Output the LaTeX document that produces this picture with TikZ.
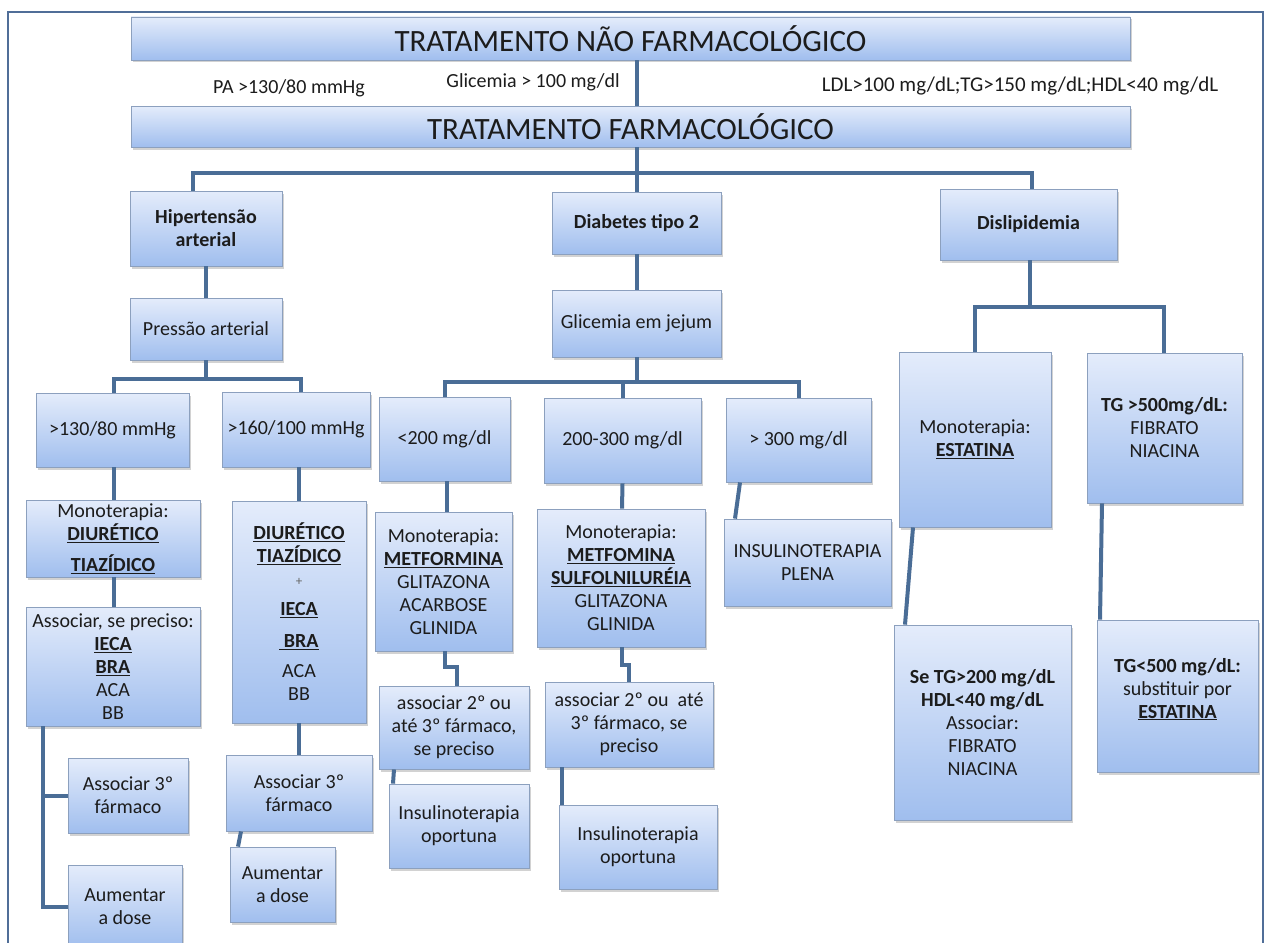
\documentclass[tikz,border=0pt]{standalone}
\usepackage{fontspec}
\setmainfont{Carlito}
\usetikzlibrary{shadows,calc}
\definecolor{boxtop}{RGB}{228,236,251}
\definecolor{boxbot}{RGB}{160,190,238}
\definecolor{boxline}{RGB}{140,160,190}
\definecolor{linkc}{RGB}{74,109,150}
\definecolor{framec}{RGB}{80,110,152}
\definecolor{txt}{RGB}{28,28,28}
\begin{document}
\begin{tikzpicture}[x=1pt,y=-1pt,
  box/.style={draw=boxline, line width=0.8pt, top color=boxtop, bottom color=boxbot,
    inner sep=2pt, align=center, text=txt, font=\fontsize{20}{23}\selectfont,
    drop shadow={shadow xshift=2pt, shadow yshift=-2.5pt, opacity=0.35}},
  big/.style={box, font=\fontsize{31}{35}\selectfont},
  link/.style={draw=linkc, line width=4pt},
  lbl/.style={text=txt, font=\fontsize{20}{24}\selectfont, inner sep=0pt}
]
\useasboundingbox (0,0) rectangle (1268,942);
\fill[white] (0,0) rectangle (1268,942);
\draw[framec, line width=2.5pt] (8,950) -- (8,12) -- (1263,12) -- (1263,950);

% top boxes
\node[big, minimum width=999pt, minimum height=43pt] (nf) at (630.5,38.5) {TRATAMENTO NÃO FARMACOLÓGICO};
\node[big, minimum width=999pt, minimum height=41pt] (f) at (630.5,126.5) {TRATAMENTO FARMACOLÓGICO};

\node[lbl] (lpa) at (289,88) {PA >130/80 mmHg};
\node[lbl] (lgl) at (533,82) {Glicemia > 100 mg/dl};
\node[lbl, font=\fontsize{21}{24}\selectfont] (lldl) at (1020,86) {LDL>100 mg/dL;TG>150 mg/dL;HDL<40 mg/dL};

% level 1
\node[box, minimum width=152pt, minimum height=75pt] (hip) at (206,228.5) {\textbf{Hipertensão}\\\textbf{arterial}};
\node[box, minimum width=169pt, minimum height=62pt] (dia) at (636.5,223) {\textbf{Diabetes tipo 2}};
\node[box, minimum width=177pt, minimum height=71pt] (dis) at (1028.5,224.5) {\textbf{Dislipidemia}};

% level 2
\node[box, minimum width=152pt, minimum height=62pt] (pres) at (206,329) {Pressão arterial};
\node[box, minimum width=169pt, minimum height=67pt] (gli) at (636.5,323.5) {Glicemia em jejum};

% level 3
\node[box, minimum width=153pt, minimum height=74pt] (p1) at (112.5,430) {>130/80 mmHg};
\node[box, minimum width=148pt, minimum height=75pt] (p2) at (296,429.5) {>160/100 mmHg};
\node[box, minimum width=131pt, minimum height=84pt] (g1) at (444.5,439) {<200 mg/dl};
\node[box, minimum width=157pt, minimum height=85pt] (g2) at (622.5,440.5) {200-300 mg/dl};
\node[box, minimum width=145pt, minimum height=84pt] (g3) at (798.5,440) {> 300 mg/dl};
\node[box, minimum width=152pt, minimum height=175pt] (est) at (975,439.5) {Monoterapia:\\\underline{\textbf{ESTATINA}}};
\node[box, minimum width=155pt, minimum height=150pt] (tga) at (1164.5,428) {\textbf{TG >500mg/dL:}\\FIBRATO\\NIACINA};

% level 4
\node[box, minimum width=174pt, minimum height=77pt] (m1) at (113,538.5) {Monoterapia:\\\underline{\textbf{DIURÉTICO}}\\[8pt]\underline{\textbf{TIAZÍDICO}}};
\node[box, minimum width=134pt, minimum height=222pt] (m2) at (299,612) {\underline{\textbf{DIURÉTICO}}\\\underline{\textbf{TIAZÍDICO}}\\[0pt]{\fontsize{13}{15}\selectfont\color{black!60}+}\\[7pt]\underline{\textbf{IECA}}\\[9pt]\underline{\textbf{\ BRA}}\\[7pt]ACA\\BB};
\node[box, minimum width=137pt, minimum height=139pt] (met1) at (443.5,581.5) {Monoterapia:\\\underline{\textbf{METFORMINA}}\\GLITAZONA\\ACARBOSE\\GLINIDA};
\node[box, minimum width=168pt, minimum height=138pt] (met2) at (621,578) {Monoterapia:\\\underline{\textbf{METFOMINA}}\\\underline{\textbf{SULFOLNILURÉIA}}\\GLITAZONA\\GLINIDA};
\node[box, minimum width=167pt, minimum height=87pt] (insp) at (807.5,562.5) {INSULINOTERAPIA\\PLENA};

% level 5
\node[box, minimum width=174pt, minimum height=119pt] (as1) at (113,666.5) {Associar, se preciso:\\\underline{\textbf{IECA}}\\\underline{\textbf{BRA}}\\ACA\\BB};
\node[box, minimum width=150pt, minimum height=83pt] (asa) at (454,727.5) {associar 2º ou\\até 3º fármaco,\\se preciso};
\node[box, minimum width=168pt, minimum height=85pt] (asb) at (629,724.5) {associar 2º ou~~até\\3º fármaco, se\\preciso};
\node[box, minimum width=177pt, minimum height=195pt] (setg) at (982.5,722.5) {\textbf{Se TG>200 mg/dL}\\\textbf{HDL<40 mg/dL}\\Associar:\\FIBRATO\\NIACINA};
\node[box, minimum width=161pt, minimum height=152pt] (tgb) at (1177.5,696) {\textbf{TG<500 mg/dL:}\\substituir por\\\underline{\textbf{ESTATINA}}\\[-7pt]\mbox{}};

% level 6
\node[box, minimum width=120pt, minimum height=75pt] (a3a) at (128,795.5) {Associar 3º\\fármaco};
\node[box, minimum width=146pt, minimum height=76pt] (a3b) at (299,793) {Associar 3º\\fármaco};
\node[box, minimum width=140pt, minimum height=84pt] (ins1) at (459,826) {Insulinoterapia\\oportuna};
\node[box, minimum width=158pt, minimum height=84pt] (ins2) at (638,847) {Insulinoterapia\\oportuna};

% level 7
\node[box, minimum width=114pt, minimum height=83pt] (aum1) at (125,906.5) {Aumentar\\a dose};
\node[box, minimum width=105pt, minimum height=75pt] (aum2) at (282.5,884.5) {Aumentar\\a dose};

% connectors
\coordinate (j1) at (636.5,173);
\coordinate (j2) at (206,379);
\coordinate (j3) at (636.5,382);
\coordinate (j4) at (1030,307);

\draw[link] (nf.south -| dia) -- (f.north -| dia);
\draw[link] (f.south -| dia) -- (j1);
\draw[link] ([xshift=-13pt]hip.north) |- (j1) -| ([xshift=3.5pt]dis.north);
\draw[link] (j1) -- (dia.north);

\draw[link] (hip.south) -- (pres.north);
\draw[link] (pres.south) -- (j2);
\draw[link] ([xshift=1.5pt]p1.north) |- (j2) -| ([xshift=5pt]p2.north);

\draw[link] (dia.south) -- (gli.north);
\draw[link] (gli.south) -- (j3);
\draw[link] ([xshift=0.5pt]g1.north) |- (j3) -| (g3.north);
\draw[link] (g2.north) -- (g2.north |- j3);

\draw[link] (dis.south -| j4) -- (j4);
\draw[link] (est.north) |- (j4) -| ([xshift=-0.5pt]tga.north);

\draw[link] ([xshift=1.5pt]p1.south) -- ([xshift=1pt]m1.north);
\draw[link] ([xshift=1pt]m1.south) -- ([xshift=1pt]as1.north);
\draw[link] ([xshift=-70pt]as1.south) |- (a3a.west);
\draw[link] ([xshift=-70pt]as1.south) |- (aum1.west);

\draw[link] (m2.north |- p2.south) -- (m2.north);
\draw[link] (m2.south) -- (a3b.north);
\draw[link] ([xshift=-58pt]a3b.south) -- ([xshift=-44.5pt]aum2.north);

\draw[link] ([xshift=3pt]met1.north |- g1.south) -- ([xshift=3pt]met1.north);
\draw[link] ([xshift=1.5pt]met1.south) -- ++(0,16) -| ([xshift=3pt]asa.north);
\draw[link] ([xshift=-60pt]asa.south) -- ([xshift=-66pt]ins1.north);

\draw[link] (g2.south) -- ([xshift=1pt]met2.north);
\draw[link] ([xshift=1pt]met2.south) -- ++(0,18) -| (asb.north);
\draw[link] ([xshift=-67pt]asb.south) -- ([xshift=-76pt]ins2.north);

\draw[link] ([xshift=-58.5pt]g3.south) -- ([xshift=-72.5pt]insp.north);
\draw[link] ([xshift=-62pt]est.south) -- ([xshift=-77.5pt]setg.north);
\draw[link] ([xshift=-62.5pt]tga.south) -- ([xshift=-77.5pt]tgb.north);
\end{tikzpicture}
\end{document}
